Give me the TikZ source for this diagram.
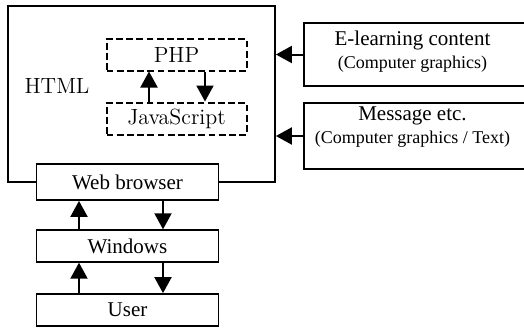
\documentclass[tikz,border=0pt]{standalone}
\usepackage{fontspec}
\newfontfamily\tms{Liberation Serif}
\newcommand\rsubfont{\tms\fontsize{9pt}{11pt}\selectfont}
\usetikzlibrary{arrows.meta}
\begin{document}
\begin{tikzpicture}[x=0.5pt,y=-0.5pt,
  box/.style={draw, line width=0.9pt, rectangle, inner sep=0pt},
  dbox/.style={draw, line width=1pt, dash pattern=on 3.4pt off 1.7pt, rectangle, inner sep=0pt, minimum width=70pt, minimum height=16pt},
  sbox/.style={box, fill=white, minimum width=91pt, font=\tms\fontsize{10.5pt}{12pt}\selectfont},
  arr/.style={line width=1pt, -{Triangle[length=8pt,width=8.5pt]}},
  lm/.style={font=\fontsize{11pt}{13pt}\selectfont},
  rtxt/.style={align=center, font=\tms\fontsize{10.5pt}{12.5pt}\selectfont}
]
\useasboundingbox (0,0) rectangle (524,327);
\node[box, minimum width=133.5pt, minimum height=88pt] (html) at (141.5,94) {};
\node[lm] (htmltxt) at (57,86) {HTML};
\node[dbox, lm] (php) at (176.5,54.5) {PHP};
\node[dbox, lm] (js) at (176.5,118.5) {JavaScript};
\draw[arr] ([xshift=-13.75pt]js.north) -- ([xshift=-13.75pt]php.south);
\draw[arr] ([xshift=14.25pt]php.south) -- ([xshift=14.25pt]js.north);

\node[sbox, minimum height=18pt] (web) at (127.5,182) {Web browser};
\node[sbox, minimum height=15.8pt] (win) at (127.5,246) {Windows};
\node[sbox, minimum height=16pt] (user) at (127.5,310) {User};
\draw[arr] ([xshift=-24.25pt]win.north) -- ([xshift=-24.25pt]web.south);
\draw[arr] ([xshift=17.75pt]web.south) -- ([xshift=17.75pt]win.north);
\draw[arr] ([xshift=-24.25pt]user.north) -- ([xshift=-24.25pt]win.south);
\draw[arr] ([xshift=17.75pt]win.south) -- ([xshift=17.75pt]user.north);

\node[box, minimum width=115pt, minimum height=31.5pt, anchor=west] (elearn) at (303,54.5) {};
\node[rtxt] (elearntxt) at (412.5,52) {E-learning content\\[-1pt]{\rsubfont(Computer graphics)}};
\node[box, minimum width=115pt, minimum height=33pt, anchor=west] (msg) at (303,136) {};
\node[rtxt] (msgtxt) at (412.5,127) {Message etc.\\[-1pt]{\rsubfont(Computer graphics / Text)}};
\draw[arr] (elearn.west) -- (elearn.west -| html.east);
\draw[arr] (msg.west) -- (msg.west -| html.east);
\end{tikzpicture}
\end{document}
